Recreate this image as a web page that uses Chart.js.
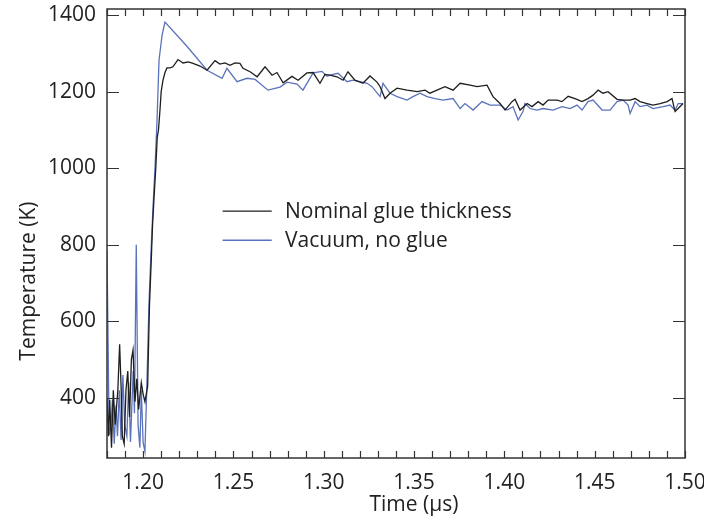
<!DOCTYPE html>
<html>
<head>
<meta charset="utf-8">
<script src="https://cdn.jsdelivr.net/npm/chart.js@4"></script>
<style>
  body { margin: 0; background: #fff; }
  #wrap { width: 704px; height: 521px; position: relative; }
</style>
</head>
<body>
<div id="wrap"><canvas id="myChartTemp"></canvas></div>
<script>
// Series (time in us, temperature in K)
const seriesLabels = ['Nominal glue thickness', 'Vacuum, no glue'];

const glueTime = [
  1.1800, 1.1808, 1.1815, 1.1825, 1.1835, 1.1845, 1.1860, 1.1870, 1.1878, 1.1885,
  1.1895, 1.1905, 1.1915, 1.1925, 1.1935, 1.1944, 1.1955, 1.1965, 1.1975, 1.1990,
  1.2000, 1.2010, 1.2025, 1.2035, 1.2045, 1.2052, 1.2060, 1.2070, 1.2078, 1.2085,
  1.2093, 1.2100, 1.2110, 1.2121, 1.2132, 1.2150, 1.2165, 1.2193, 1.2221, 1.2250,
  1.2276, 1.2315, 1.2354, 1.2398, 1.2425, 1.2453, 1.2481, 1.2509, 1.2536, 1.2553,
  1.2592, 1.2631, 1.2675, 1.2714, 1.2741, 1.2775, 1.2824, 1.2858, 1.2907, 1.2941,
  1.2979, 1.3007, 1.3035, 1.3073, 1.3107, 1.3134, 1.3173, 1.3217, 1.3256, 1.3295,
  1.3312, 1.3339, 1.3367, 1.3406, 1.3461, 1.3517, 1.3561, 1.3588, 1.3627, 1.3671,
  1.3716, 1.3755, 1.3810, 1.3849, 1.3904, 1.3937, 1.3976, 1.4004, 1.4042, 1.4059,
  1.4087, 1.4126, 1.4153, 1.4187, 1.4214, 1.4242, 1.4292, 1.4319, 1.4353, 1.4391,
  1.4430, 1.4463, 1.4491, 1.4519, 1.4546, 1.4574, 1.4624, 1.4657, 1.4696, 1.4724,
  1.4751, 1.4790, 1.4823, 1.4862, 1.4901, 1.4928, 1.4945, 1.4962, 1.4989
];
const glueTemp = [
  400, 300, 395, 270, 420, 330, 420, 540, 430, 300,
  280, 420, 470, 350, 500, 525, 390, 450, 370, 440,
  410, 390, 430, 640, 760, 850, 920, 1000, 1080, 1100,
  1150, 1200, 1230, 1250, 1262, 1262, 1265, 1284, 1275, 1278,
  1274, 1267, 1256, 1281, 1272, 1275, 1269, 1275, 1274, 1261,
  1252, 1239, 1265, 1243, 1250, 1223, 1240, 1230, 1249, 1250,
  1222, 1245, 1243, 1239, 1230, 1252, 1230, 1222, 1241, 1225,
  1213, 1182, 1196, 1209, 1204, 1200, 1204, 1196, 1204, 1213,
  1204, 1222, 1217, 1213, 1217, 1187, 1169, 1152, 1174, 1180,
  1152, 1169, 1161, 1174, 1165, 1178, 1178, 1174, 1188, 1182,
  1174, 1182, 1191, 1204, 1196, 1200, 1180, 1178, 1178, 1182,
  1174, 1169, 1165, 1169, 1174, 1182, 1148, 1156, 1169
];

const vacTime = [
  1.1800, 1.1812, 1.1822, 1.1830, 1.1840, 1.1850, 1.1858, 1.1868, 1.1878, 1.1888,
  1.1898, 1.1910, 1.1920, 1.1930, 1.1945, 1.1952, 1.1962, 1.1972, 1.1982, 1.1990,
  1.2000, 1.2010, 1.2020, 1.2032, 1.2044, 1.2055, 1.2066, 1.2077, 1.2088, 1.2105,
  1.2121, 1.2240, 1.2354, 1.2437, 1.2464, 1.2520, 1.2575, 1.2620, 1.2691, 1.2758,
  1.2797, 1.2852, 1.2885, 1.2941, 1.2990, 1.3018, 1.3051, 1.3079, 1.3129, 1.3162,
  1.3201, 1.3240, 1.3267, 1.3312, 1.3328, 1.3367, 1.3406, 1.3461, 1.3494, 1.3533,
  1.3572, 1.3616, 1.3660, 1.3716, 1.3755, 1.3782, 1.3827, 1.3876, 1.3921, 1.3976,
  1.4015, 1.4048, 1.4076, 1.4103, 1.4114, 1.4142, 1.4181, 1.4214, 1.4270, 1.4319,
  1.4364, 1.4402, 1.4430, 1.4463, 1.4491, 1.4541, 1.4585, 1.4624, 1.4657, 1.4685,
  1.4696, 1.4724, 1.4751, 1.4790, 1.4823, 1.4879, 1.4917, 1.4945, 1.4962, 1.4989
];
const vacTemp = [
  785, 303, 330, 395, 280, 380, 300, 420, 290, 460,
  330, 300, 440, 285, 470, 360, 800, 330, 270, 420,
  283, 260, 420, 640, 785, 900, 1003, 1126, 1282, 1348,
  1382, 1320, 1256, 1235, 1261, 1226, 1235, 1232, 1204, 1212,
  1225, 1220, 1204, 1249, 1253, 1240, 1245, 1248, 1226, 1230,
  1226, 1222, 1213, 1187, 1222, 1196, 1187, 1178, 1187, 1196,
  1187, 1182, 1178, 1182, 1156, 1169, 1152, 1174, 1165, 1165,
  1152, 1161, 1126, 1148, 1169, 1156, 1152, 1156, 1152, 1161,
  1156, 1165, 1152, 1174, 1178, 1152, 1152, 1174, 1178, 1165,
  1143, 1174, 1161, 1165, 1156, 1161, 1165, 1152, 1169, 1169
];

const xTicks = [1.20, 1.25, 1.30, 1.35, 1.40, 1.45, 1.50];
const yTicks = [400, 600, 800, 1000, 1200, 1400];
const xRange = [1.18, 1.50];
const yRange = [243, 1416];

const fontFamily = "'Open Sans', 'Liberation Sans', sans-serif";
const axisTitles = { x: 'Time (μs)', y: 'Temperature (K)' };

// frame, inward ticks, legend and axis titles
const framePlugin = {
  id: 'frame',
  afterDraw(chart) {
    const { ctx, chartArea: a, scales: { x, y } } = chart;
    ctx.save();
    ctx.strokeStyle = '#333';
    ctx.lineWidth = 1.5;
    ctx.strokeRect(a.left, a.top, a.right - a.left, a.bottom - a.top);

    ctx.lineWidth = 1.2;
    ctx.beginPath();
    for (let i = 0; i <= 32; i++) {
      const px = Math.round(x.getPixelForValue(xRange[0] + i * 0.01)) + 0.5;
      ctx.moveTo(px, a.bottom); ctx.lineTo(px, a.bottom - 7);
      ctx.moveTo(px, a.top); ctx.lineTo(px, a.top + 7);
    }
    yTicks.forEach(v => {
      const py = Math.round(y.getPixelForValue(v)) + 0.5;
      ctx.moveTo(a.left, py); ctx.lineTo(a.left + 12, py);
      ctx.moveTo(a.right, py); ctx.lineTo(a.right - 12, py);
    });
    ctx.stroke();

    // legend
    ctx.font = '21px ' + fontFamily;
    ctx.textBaseline = 'middle';
    ctx.textAlign = 'left';
    chart.data.datasets.forEach((ds, i) => {
      const ly = a.top + a.height * (0.45 + i * 0.065);
      const x0 = a.left + a.width * 0.20;
      const x1 = a.left + a.width * 0.285;
      ctx.strokeStyle = ds.borderColor;
      ctx.lineWidth = 1.3;
      ctx.beginPath(); ctx.moveTo(x0, ly); ctx.lineTo(x1, ly); ctx.stroke();
      ctx.fillStyle = '#222';
      ctx.fillText(ds.label, a.left + a.width * 0.308, ly + 1);
    });

    // axis titles
    ctx.fillStyle = '#222';
    ctx.textAlign = 'center';
    ctx.fillText(axisTitles.x, a.left + a.width * 0.531, a.bottom + 47);
    ctx.translate(a.left - 78, a.top + a.height * 0.606);
    ctx.rotate(-Math.PI / 2);
    ctx.fillText(axisTitles.y, 0, 0);
    ctx.restore();
  }
};

const ctx = document.getElementById('myChartTemp').getContext('2d');
new Chart(ctx, {
  type: 'line',
  data: {
    datasets: [
      {
        label: seriesLabels[0],
        data: glueTime.map((t, i) => ({ x: t, y: glueTemp[i] })),
        borderColor: '#1e1e1e',
        borderWidth: 1.3,
        pointRadius: 0,
        tension: 0
      },
      {
        label: seriesLabels[1],
        data: vacTime.map((t, i) => ({ x: t, y: vacTemp[i] })),
        borderColor: '#5a72bb',
        borderWidth: 1.3,
        pointRadius: 0,
        tension: 0
      }
    ]
  },
  options: {
    responsive: true,
    maintainAspectRatio: false,
    animation: false,
    layout: { padding: { top: 9, right: 19, left: 0, bottom: 0 } },
    plugins: {
      legend: { display: false },
      tooltip: { enabled: false }
    },
    scales: {
      x: {
        type: 'linear',
        min: xRange[0],
        max: xRange[1],
        grid: { display: false, drawTicks: false, tickLength: 0 },
        border: { display: false },
        afterBuildTicks: s => { s.ticks = xTicks.map(v => ({ value: v })); },
        afterFit: s => {
          s.height = 63;
          s.paddingLeft = 0; s.paddingRight = 0;
        },
        ticks: {
          padding: 12,
          color: '#222',
          font: { family: fontFamily, size: 21 },
          maxRotation: 0,
          callback: v => Number(v).toFixed(2)
        }
      },
      y: {
        min: yRange[0],
        max: yRange[1],
        grid: { display: false, drawTicks: false, tickLength: 0 },
        border: { display: false },
        afterBuildTicks: s => { s.ticks = yTicks.map(v => ({ value: v })); },
        afterFit: s => {
          s.width = 107;
          s.paddingTop = 0; s.paddingBottom = 0;
        },
        ticks: {
          padding: 11,
          color: '#222',
          font: { family: fontFamily, size: 21 },
          callback: v => String(v)
        }
      }
    }
  },
  plugins: [framePlugin]
});
</script>
</body>
</html>
